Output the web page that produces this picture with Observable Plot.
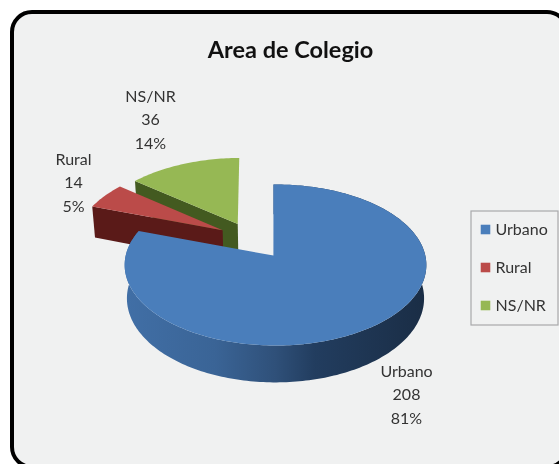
<!DOCTYPE html>
<html>
<head>
<meta charset="utf-8">
<script src="https://cdn.jsdelivr.net/npm/d3@7"></script>
<script src="https://cdn.jsdelivr.net/npm/@observablehq/plot@0.6"></script>
<style>
html,body{margin:0;padding:0;background:#fff;overflow:hidden}
svg{display:block;filter:blur(0.45px)}
</style>
</head>
<body>
<div id="chart"></div>
<script>
const chartTitle = "Area de Colegio";
const categories = ["Urbano", "Rural", "NS/NR"];
const counts = [208, 14, 36];
const percents = [81, 5, 14];

const topColors = ["#4a7ebb", "#bb4b49", "#96b854"];
const wallColors = ["url(#blueWall)", "#5a1a18", "#435a20"];

// Pie geometry: ground-plane circle seen through a mild perspective
const W = 559, H = 464;
const cx = 275, cy = 256, rx = 150, ry = 79.6, persp = 0.1056, depth = 33, shrink = 0.985;
const tilt = -0.015;
const explode = [[0, 0], [-0.365, 0.34], [-0.263, 0.425]];
const vertexNudge = [[-0.014, 0.012], [0, 0], [0, 0]];
const labelAt = [[406, 392], [73, 180], [150, 117]];
const scaleAt = v => 1 / (1 + persp * v);
const top3d = (u, v) => ({x: cx + rx * u * scaleAt(v), y: cy - ry * v * scaleAt(v)});
const low3d = (u, v) => ({x: cx + rx * u * scaleAt(v) * shrink, y: cy - ry * v * scaleAt(v) + depth * scaleAt(v)});

const arcs = d3.pie().sort(null).startAngle(tilt).endAngle(2 * Math.PI + tilt)(counts);
const anglesOf = (a, step = 0.02) => {
  const n = Math.ceil((a.endAngle - a.startAngle) / step);
  return d3.range(n + 1).map(i => a.startAngle + (a.endAngle - a.startAngle) * i / n);
};
function facePoints(i) {
  const [ou, ov] = explode[i];
  const [nu, nv] = vertexNudge[i];
  return [top3d(ou + nu, ov + nv), ...anglesOf(arcs[i]).map(t => top3d(ou + Math.sin(t), ov + Math.cos(t)))];
}
function edgeWall(i) {           // the radial wall at the slice's start angle faces the viewer
  const [ou, ov] = explode[i];
  const t = arcs[i].startAngle;
  const [u, v] = [ou + Math.sin(t), ov + Math.cos(t)];
  return [top3d(ou, ov), top3d(u, v), low3d(u, v), low3d(ou, ov)];
}
function outerWall(i) {
  const [ou, ov] = explode[i];
  const ts = anglesOf(arcs[i]);
  return [
    ...ts.map(t => top3d(ou + Math.sin(t), ov + Math.cos(t))),
    ...ts.slice().reverse().map(t => low3d(ou + Math.sin(t), ov + Math.cos(t)))
  ];
}
const poly = (points, fill) => Plot.line(points, {x: "x", y: "y", fill, stroke: "none", curve: "linear"});

const gradient = () => d3.create("svg:defs").html(`
  <linearGradient id="blueWall" gradientUnits="userSpaceOnUse" x1="124" x2="426" y1="0" y2="0">
    <stop offset="0" stop-color="#416fa6"/>
    <stop offset="0.3" stop-color="#3a6496"/>
    <stop offset="0.5" stop-color="#2f5079"/>
    <stop offset="0.63" stop-color="#223d5f"/>
    <stop offset="1" stop-color="#1a2d45"/>
  </linearGradient>`).node();

const legendRows = categories.map((name, i) => ({name, color: topColors[i], y: 229 + i * 38}));
const labels = categories.map((name, i) => ({
  text: `${name}\n${counts[i]}\n${percents[i]}%`, x: labelAt[i][0], y: labelAt[i][1]
}));

const font = "Lato, 'Open Sans', sans-serif";
const plot = Plot.plot({
  width: W, height: H,
  margin: 0,
  x: {domain: [0, W], range: [0, W], axis: null},
  y: {domain: [0, H], range: [0, H], axis: null},
  style: {background: "#fff", fontFamily: font},
  marks: [
    gradient,
    Plot.rect([{}], {x1: () => 12, x2: () => 567, y1: () => 12, y2: () => 467, rx: 20, fill: "#f0f1f1", stroke: "#000", strokeWidth: 4}),
    Plot.text([chartTitle], {x: () => 290, y: () => 50, text: d => d, fontSize: 23.5, fontWeight: 700, fill: "#111"}),
    // NS/NR slice
    poly(edgeWall(2), wallColors[2]),
    poly(facePoints(2), topColors[2]),
    // Rural slice
    poly(edgeWall(1), wallColors[1]),
    poly(facePoints(1), topColors[1]),
    // Urbano slice
    poly(outerWall(0), wallColors[0]),
    poly(facePoints(0), topColors[0]),
    // data labels
    Plot.text(labels, {x: "x", y: "y", text: "text", fontSize: 16, lineHeight: 1.47, fill: "#333"}),
    // legend
    Plot.rect([{}], {x1: () => 471, x2: () => 558, y1: () => 211, y2: () => 325, fill: "#f0f1f1", stroke: "#a8a9ab", strokeWidth: 1.2}),
    Plot.dot(legendRows, {x: () => 485, y: "y", symbol: "square", r: 5.4, fill: "color", stroke: "none"}),
    Plot.text(legendRows, {x: () => 495, y: "y", text: "name", textAnchor: "start", fontSize: 16, fill: "#333"})
  ]
});
document.getElementById("chart").append(plot);
</script>
</body>
</html>
